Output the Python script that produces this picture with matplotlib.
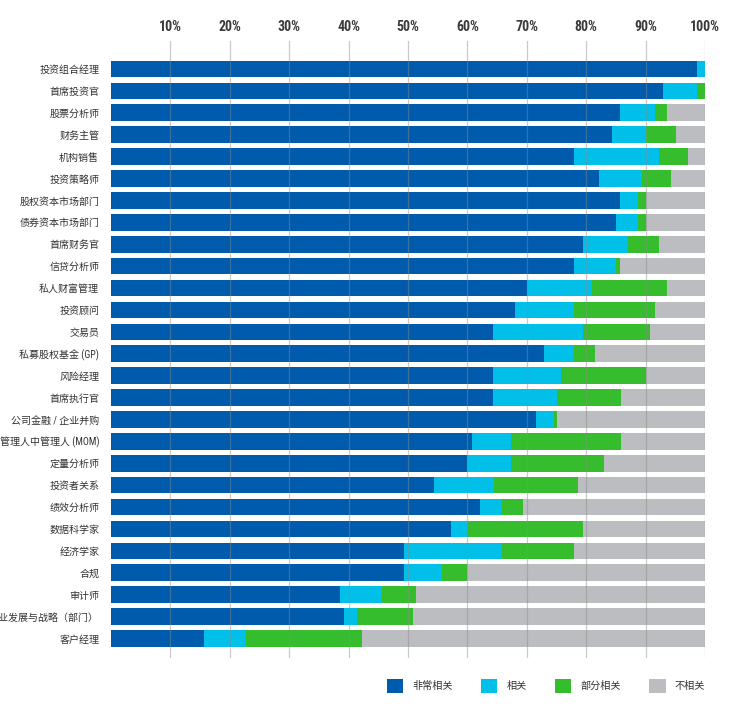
import matplotlib
matplotlib.use("Agg")
import matplotlib.pyplot as plt
from matplotlib import font_manager
from matplotlib.patches import Patch
import numpy as np

categories = ["投资组合经理", "首席投资官", "股票分析师", "财务主管", "机构销售", "投资策略师",
              "股权资本市场部门", "债券资本市场部门", "首席财务官", "信贷分析师", "私人财富管理",
              "投资顾问", "交易员", "私募股权基金 (GP)", "风险经理", "首席执行官", "公司金融 / 企业并购",
              "管理人中管理人 (MOM)", "定量分析师", "投资者关系", "绩效分析师", "数据科学家",
              "经济学家", "合规", "审计师", "企业发展与战略（部门）", "客户经理"]

very_relevant = [98.7, 92.9, 85.7, 84.3, 77.9, 82.2, 85.7, 85.1, 79.4, 77.9, 70.0,
                 68.0, 64.3, 72.9, 64.3, 64.3, 71.5, 60.7, 60.0, 54.3, 62.2, 57.2,
                 49.3, 49.3, 38.6, 39.3, 15.7]
relevant = [1.3, 5.8, 5.8, 5.7, 14.4, 7.2, 3.0, 3.6, 7.7, 7.2, 10.9,
            10.0, 15.1, 5.1, 11.5, 10.8, 3.0, 6.6, 7.3, 10.1, 3.7, 2.8,
            16.6, 6.4, 7.1, 2.1, 7.1]
partly = [0.0, 1.3, 2.1, 5.1, 4.9, 4.9, 1.3, 1.3, 5.1, 0.6, 12.7,
          13.6, 11.4, 3.5, 14.2, 10.7, 0.5, 18.5, 15.7, 14.2, 3.4, 19.4,
          12.0, 4.3, 5.7, 9.4, 19.4]
not_relevant = [0.0, 0.0, 6.4, 4.9, 2.8, 5.7, 10.0, 10.0, 7.8, 14.3, 6.4,
                8.4, 9.2, 18.5, 10.0, 14.2, 25.0, 14.2, 17.0, 21.4, 30.7, 20.6,
                22.1, 40.0, 48.6, 49.2, 57.8]

series_names = ["非常相关", "相关", "部分相关", "不相关"]
colors = ["#005BAC", "#00C0EA", "#36BD2E", "#BCBDC0"]
xticks = [10, 20, 30, 40, 50, 60, 70, 80, 90, 100]
xtick_labels = [f"{t}%" for t in xticks]

avail = {f.name for f in font_manager.fontManager.ttflist}
num_font = next((f for f in ["Liberation Sans Narrow", "Roboto Condensed", "Roboto", "DejaVu Sans"] if f in avail), "DejaVu Sans")
cjk = "Noto Sans CJK SC"
plt.rcParams['font.family'] = [cjk, 'DejaVu Sans']

fig = plt.figure(figsize=(7.47, 7.11), dpi=100)
top_px, bot_px = 40.5, 658
ax = fig.add_axes([111/747, 1-bot_px/711, (705-111)/747, (bot_px-top_px)/711])

y = np.arange(len(categories))
left = np.zeros(len(categories))
for vals, c, name in zip([very_relevant, relevant, partly, not_relevant], colors, series_names):
    vals = np.array(vals)
    ax.barh(y, vals, left=left, height=0.76, color=c, label=name, zorder=2)
    left += vals

ax.set_xlim(0, 100)
ax.set_ylim(len(categories) - 1 + 0.89, -1.30)
for t in xticks:
    ax.axvline(t, color="#8a8a8a", alpha=0.45, lw=0.9, zorder=3)

ax.xaxis.tick_top()
ax.set_xticks(xticks)
ax.set_xticklabels(xtick_labels, fontfamily=num_font, fontweight="bold", fontsize=10, color="#3a3a3a")
ax.tick_params(axis="x", length=0, pad=4.5)
ax.set_yticks(y)
ax.set_yticklabels(categories, fontsize=7.2, color="#333333", fontfamily=[num_font, cjk])
ax.tick_params(axis="y", length=0, pad=8.5)
for s in ax.spines.values():
    s.set_visible(False)

handles = [Patch(facecolor=c, edgecolor="none") for c in colors]
fig.legend(handles, series_names, loc="center right", bbox_to_anchor=(705/747, 1-686/711),
           ncol=4, frameon=False, fontsize=7.3, handlelength=1.6, handleheight=1.6,
           handletextpad=0.9, columnspacing=2.8, labelcolor="#333333",
           borderpad=0, borderaxespad=0)

fig.savefig("out.png", dpi=100)
